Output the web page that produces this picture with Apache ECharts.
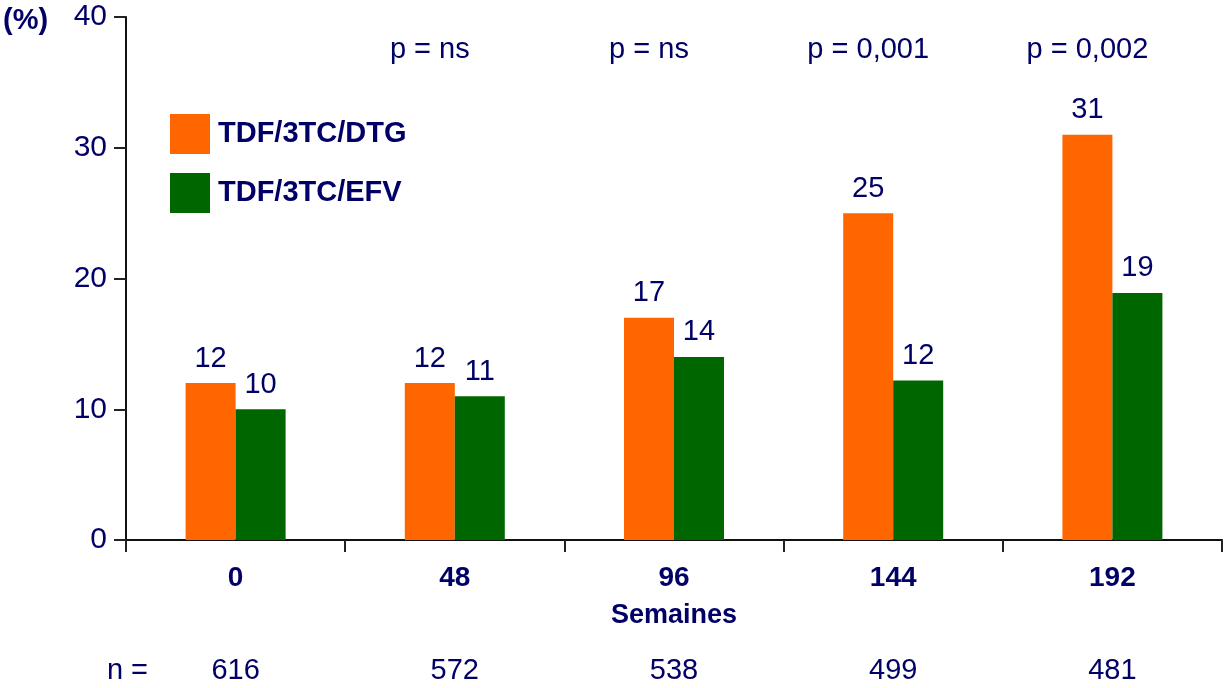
<!DOCTYPE html>
<html>
<head>
<meta charset="utf-8">
<script src="https://cdn.jsdelivr.net/npm/echarts@6/dist/echarts.min.js"></script>
<style>
html,body{margin:0;padding:0;background:#fff;}
#chart{width:1227px;height:688px;}
</style>
</head>
<body>
<div id="chart"></div>
<script>
const weeks = ['0', '48', '96', '144', '192'];
const dtgValues = [12, 12, 17, 25, 31];
const efvValues = [10, 11, 14, 12.2, 18.9];
const pValues = ['', 'p = ns', 'p = ns', 'p = 0,001', 'p = 0,002'];
const nValues = ['616', '572', '538', '499', '481'];
const yTicks = [0, 10, 20, 30, 40];

const NAVY = '#000066';
const FONT = '"Liberation Sans", Arial, sans-serif';

const chart = echarts.init(document.getElementById('chart'), null, {renderer: 'canvas'});
chart.setOption({
  animation: false,
  backgroundColor: '#fff',
  textStyle: {fontFamily: FONT, color: NAVY},
  grid: {left: 126, right: 5, top: 17, bottom: 148, containLabel: false},
  legend: {
    orient: 'vertical', left: 170, top: 114, padding: 0,
    itemWidth: 40, itemHeight: 40, itemGap: 19, icon: 'rect',
    textStyle: {fontFamily: FONT, fontSize: 29, fontWeight: 'bold', color: NAVY, padding: [0, 0, 0, 3]},
    data: ['TDF/3TC/DTG', 'TDF/3TC/EFV']
  },
  graphic: [{
    type: 'text', left: 3, top: 6,
    style: {text: '(%)', font: 'bold 29px ' + FONT, fill: NAVY}
  }],
  xAxis: [{
    type: 'category', data: weeks, position: 'bottom',
    name: 'Semaines', nameLocation: 'middle', nameGap: 62,
    nameTextStyle: {fontFamily: FONT, fontSize: 27, fontWeight: 'bold', color: NAVY},
    axisLine: {lineStyle: {color: '#111', width: 2}},
    axisTick: {show: true, length: 12, lineStyle: {color: '#222', width: 2}},
    axisLabel: {fontFamily: FONT, fontSize: 28, fontWeight: 'bold', color: NAVY, margin: 24}
  }, {
    type: 'category', data: pValues, position: 'top',
    axisLine: {show: false}, axisTick: {show: false},
    axisLabel: {inside: true, margin: 18, fontFamily: FONT, fontSize: 29, color: NAVY, padding: [0, 50, 0, 0]}
  }, {
    type: 'category', data: nValues, position: 'bottom', offset: 131,
    name: 'n =', nameLocation: 'start', nameGap: -22,
    nameTextStyle: {fontFamily: FONT, fontSize: 29, color: NAVY, verticalAlign: 'middle', align: 'right'},
    axisLine: {show: false}, axisTick: {show: false},
    axisLabel: {margin: 0, verticalAlign: 'middle', fontFamily: FONT, fontSize: 29, color: NAVY}
  }],
  yAxis: {
    type: 'value', min: yTicks[0], max: yTicks[yTicks.length - 1], interval: 10,
    splitLine: {show: false},
    axisLine: {show: true, lineStyle: {color: '#111', width: 2}},
    axisTick: {show: true, length: 12, lineStyle: {color: '#222', width: 2}},
    axisLabel: {fontFamily: FONT, fontSize: 30, color: NAVY, margin: 19}
  },
  series: [{
    name: 'TDF/3TC/DTG', type: 'bar', data: dtgValues, xAxisIndex: 0,
    barWidth: 50, barGap: '0%',
    itemStyle: {color: '#FF6600'},
    label: {show: true, position: 'top', distance: 10, fontFamily: FONT, fontSize: 29, color: NAVY,
      formatter: p => Math.round(p.value)}
  }, {
    name: 'TDF/3TC/EFV', type: 'bar', data: efvValues, xAxisIndex: 0,
    barWidth: 50, barGap: '0%',
    itemStyle: {color: '#006600'},
    label: {show: true, position: 'top', distance: 10, fontFamily: FONT, fontSize: 29, color: NAVY,
      formatter: p => Math.round(p.value)}
  }]
});
</script>
</body>
</html>
